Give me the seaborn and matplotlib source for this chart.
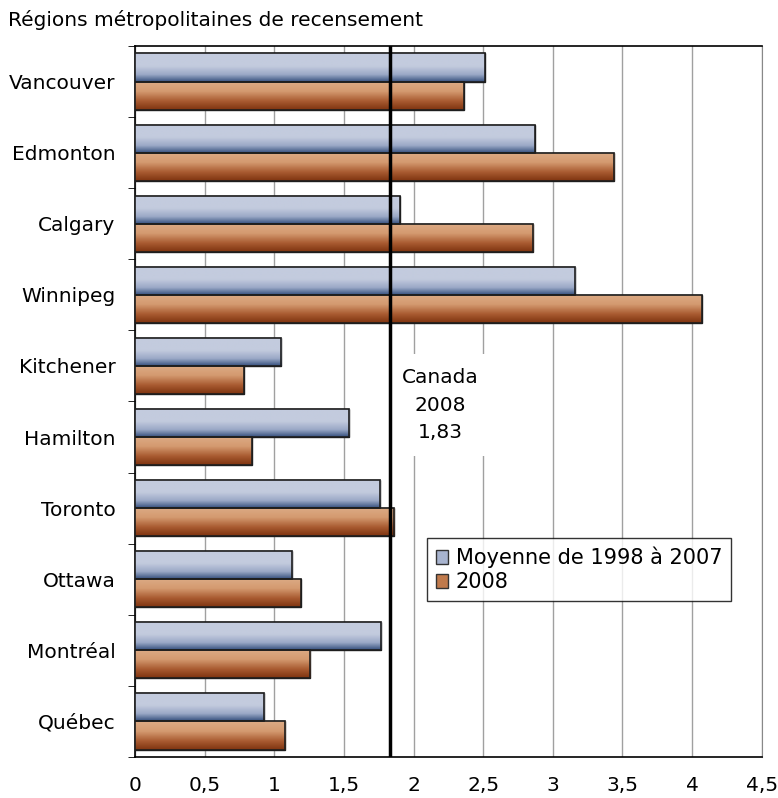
import matplotlib
matplotlib.use("Agg")
import matplotlib.pyplot as plt
import seaborn as sns
import pandas as pd
import numpy as np
from matplotlib.colors import LinearSegmentedColormap
from matplotlib.patches import Rectangle, Patch

regions = ["Vancouver", "Edmonton", "Calgary", "Winnipeg", "Kitchener",
           "Hamilton", "Toronto", "Ottawa", "Montréal", "Québec"]
avg_1998_2007 = [2.51, 2.87, 1.90, 3.16, 1.05, 1.54, 1.76, 1.13, 1.77, 0.93]
val_2008 = [2.36, 3.44, 2.86, 4.07, 0.78, 0.84, 1.86, 1.19, 1.26, 1.08]
series_names = ["Moyenne de 1998 à 2007", "2008"]
canada_2008 = 1.83
xticks = [0, 0.5, 1, 1.5, 2, 2.5, 3, 3.5, 4, 4.5]

df = pd.DataFrame({
    "region": regions * 2,
    "serie": [series_names[0]] * len(regions) + [series_names[1]] * len(regions),
    "valeur": avg_1998_2007 + val_2008,
})

sns.set_style("white")
plt.rcParams['font.family'] = ['DejaVu Sans']
plt.rcParams['text.color'] = 'black'
plt.rcParams['xtick.color'] = 'black'
plt.rcParams['ytick.color'] = 'black'
plt.rcParams['xtick.labelcolor'] = 'black'
plt.rcParams['ytick.labelcolor'] = 'black'

FS = 14.5

fig = plt.figure(figsize=(7.78, 7.98), dpi=100)
ax = fig.add_axes([0.1735, 0.0514, 0.8055, 0.891])

pal = {series_names[0]: "#9aa8c6", series_names[1]: "#c07a4c"}
sns.barplot(data=df, y="region", x="valeur", hue="serie", orient="h",
            palette=pal, width=0.79, gap=0, ax=ax, legend=False,
            edgecolor="#222222", linewidth=1, zorder=3)

# gradient fill for each bar
blue_cmap = LinearSegmentedColormap.from_list(
    "b", [(0, "#c3cbde"), (0.45, "#c3cbde"), (0.75, "#9aa8c6"), (1, "#36507e")])
orange_cmap = LinearSegmentedColormap.from_list(
    "o", [(0, "#dcab85"), (0.35, "#d49a70"), (0.7, "#a85a30"), (1, "#7e3410")])
grad = np.linspace(0, 1, 64).reshape(-1, 1)
bars = [p for p in ax.patches if isinstance(p, Rectangle) and p.get_width() > 0]
for i, p in enumerate(bars):
    cmap = blue_cmap if i < len(regions) else orange_cmap
    x0, y0 = p.get_x(), p.get_y()
    w, h = p.get_width(), p.get_height()
    img = ax.imshow(grad, cmap=cmap, aspect="auto", extent=[x0, x0 + w, y0 + h, y0],
                    zorder=3.2, interpolation="bilinear")
    img.set_clip_path(p)
    ax.add_patch(Rectangle((x0, y0), w, h, fill=False, edgecolor="#1e1e1e",
                           linewidth=1.2, zorder=3.5))

ax.set_xlim(0, 4.5)
ax.set_ylim(len(regions) - 0.5, -0.5)
ax.set_xticks(xticks)
ax.set_xticklabels([f"{t:g}".replace(".", ",") for t in xticks], fontsize=FS)
ax.tick_params(axis="x", length=0, pad=14)
ax.set_yticks(np.arange(len(regions)))
ax.set_yticklabels(regions, fontsize=FS)
ax.set_yticks(np.arange(len(regions) + 1) - 0.5, minor=True)
ax.tick_params(axis="y", which="major", length=0, pad=14)
ax.tick_params(axis="y", which="minor", length=5, color="black", direction="out", left=True)
ax.set_xlabel("")
ax.set_ylabel("")

ax.xaxis.grid(True, color="#a0a0a0", linewidth=1, zorder=0)
ax.set_axisbelow(True)
for s in ["left", "bottom", "top"]:
    ax.spines[s].set_color("black")
    ax.spines[s].set_linewidth(1.2)
ax.spines["right"].set_color("#888888")

ax.axvline(canada_2008, color="black", linewidth=2.5, zorder=5)
ax.text(2.19, 4.55, "Canada\n2008\n" + f"{canada_2008:.2f}".replace(".", ","),
        ha="center", va="center", fontsize=FS, linespacing=1.55, zorder=2,
        bbox=dict(facecolor="white", edgecolor="none", pad=10))

fig.text(0.010, 0.975, "Régions métropolitaines de recensement", fontsize=FS,
         ha="left", va="center")

handles = [Patch(facecolor="#a8b4cf", edgecolor="#333333", label=series_names[0]),
           Patch(facecolor="#c07a4c", edgecolor="#333333", label=series_names[1])]
leg = ax.legend(handles=handles, loc="upper left", bbox_to_anchor=(0.466, 0.308),
                borderaxespad=0, fontsize=15, frameon=True, fancybox=False,
                handlelength=0.6, handleheight=0.6, handletextpad=0.35,
                labelspacing=0.2, borderpad=0.42)
leg.get_frame().set_edgecolor("black")
leg.get_frame().set_linewidth(1)
leg.set_zorder(6)

fig.savefig("out.png", dpi=100)
